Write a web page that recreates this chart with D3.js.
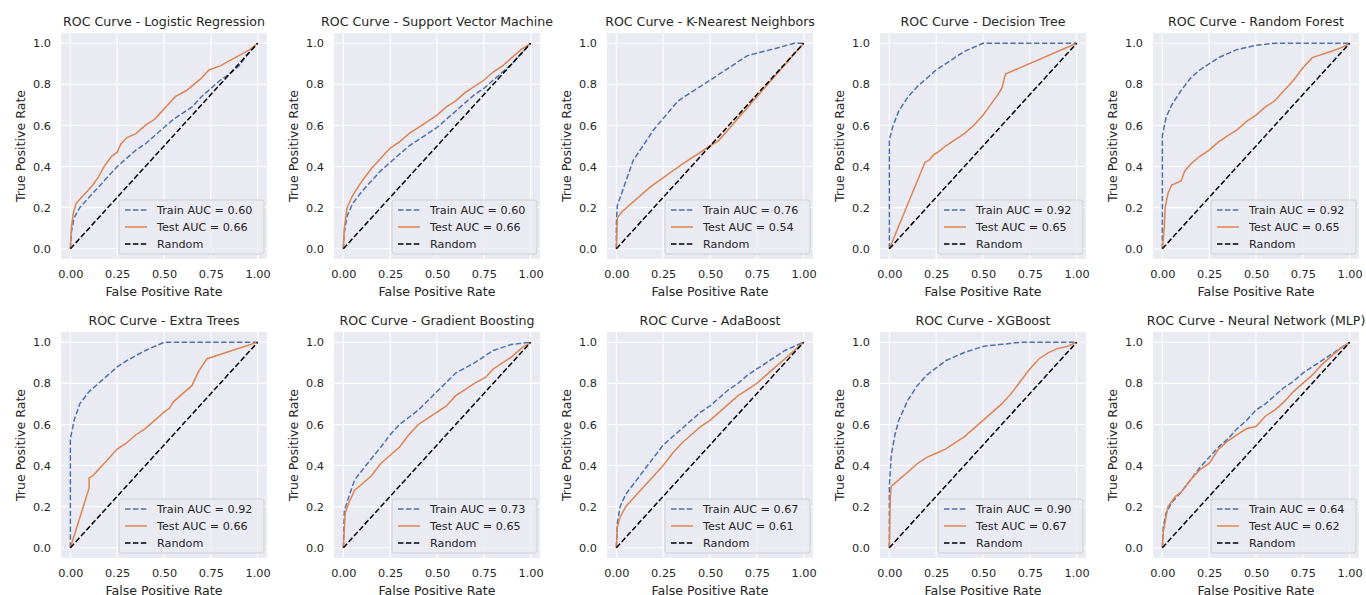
<!DOCTYPE html>
<html lang="en">
<head>
  <meta charset="UTF-8">
  <script src="https://d3js.org/d3.v7.min.js"></script>
  <title>ROC Curves</title>
  <style>
    body { margin: 0; background: #fff; }
    text { font-family: "DejaVu Sans", sans-serif; fill: #262626; }
  </style>
</head>
<body>

  <svg id="chart" width="1366" height="595"></svg>

  <script>

    // Model names and AUC values
    var models = ["Logistic Regression", "Support Vector Machine", "K-Nearest Neighbors", "Decision Tree", "Random Forest",
                  "Extra Trees", "Gradient Boosting", "AdaBoost", "XGBoost", "Neural Network (MLP)"];
    var trainAuc = [0.60, 0.60, 0.76, 0.92, 0.92, 0.92, 0.73, 0.67, 0.90, 0.64];
    var testAuc  = [0.66, 0.66, 0.54, 0.65, 0.65, 0.66, 0.65, 0.61, 0.67, 0.62];

    // ROC points [fpr, tpr]
    var trainRoc = [
      [[0,0],[0.005,0.08],[0.02,0.15],[0.05,0.2],[0.1,0.25],[0.15,0.3],[0.2,0.35],[0.25,0.4],[0.3,0.44],[0.35,0.48],[0.4,0.51],[0.45,0.55],[0.5,0.59],[0.55,0.63],[0.6,0.66],[0.65,0.69],[0.7,0.74],[0.75,0.78],[0.8,0.82],[0.85,0.85],[0.9,0.89],[0.95,0.95],[1,1]],
      [[0,0],[0.005,0.08],[0.02,0.16],[0.05,0.22],[0.1,0.28],[0.15,0.33],[0.2,0.38],[0.25,0.42],[0.3,0.46],[0.35,0.5],[0.4,0.53],[0.45,0.56],[0.5,0.59],[0.55,0.63],[0.6,0.67],[0.65,0.71],[0.7,0.75],[0.75,0.78],[0.8,0.82],[0.85,0.86],[0.9,0.9],[0.95,0.95],[1,1]],
      [[0,0],[0,0.12],[0.005,0.21],[0.09,0.43],[0.2,0.58],[0.33,0.72],[0.5,0.82],[0.7,0.94],[0.85,0.975],[0.95,1],[1,1]],
      [[0,0],[0,0.53],[0.02,0.6],[0.05,0.67],[0.1,0.74],[0.15,0.79],[0.2,0.83],[0.25,0.87],[0.3,0.9],[0.35,0.93],[0.4,0.96],[0.45,0.98],[0.5,1],[1,1]],
      [[0,0],[0,0.55],[0.02,0.64],[0.05,0.7],[0.1,0.77],[0.15,0.83],[0.2,0.87],[0.3,0.93],[0.4,0.97],[0.5,0.99],[0.6,1],[1,1]],
      [[0,0],[0,0.53],[0.02,0.62],[0.05,0.7],[0.1,0.76],[0.15,0.8],[0.2,0.84],[0.25,0.88],[0.3,0.91],[0.4,0.96],[0.5,1],[1,1]],
      [[0,0],[0.005,0.18],[0.03,0.25],[0.06,0.33],[0.12,0.4],[0.2,0.49],[0.25,0.55],[0.3,0.6],[0.4,0.67],[0.5,0.76],[0.6,0.85],[0.7,0.9],[0.8,0.96],[0.9,0.99],[1,1]],
      [[0,0],[0.005,0.12],[0.02,0.2],[0.05,0.26],[0.1,0.32],[0.15,0.38],[0.2,0.44],[0.25,0.5],[0.3,0.54],[0.35,0.58],[0.4,0.62],[0.45,0.66],[0.5,0.69],[0.55,0.73],[0.6,0.77],[0.65,0.8],[0.7,0.84],[0.75,0.87],[0.8,0.9],[0.85,0.93],[0.9,0.96],[0.95,0.98],[1,1]],
      [[0,0],[0,0.3],[0.01,0.45],[0.03,0.55],[0.05,0.62],[0.1,0.72],[0.15,0.79],[0.2,0.84],[0.3,0.91],[0.4,0.95],[0.5,0.98],[0.6,0.99],[0.7,1],[0.95,1],[1,1]],
      [[0,0],[0.005,0.1],[0.02,0.17],[0.05,0.22],[0.1,0.27],[0.15,0.33],[0.2,0.39],[0.25,0.44],[0.3,0.49],[0.35,0.53],[0.4,0.58],[0.45,0.62],[0.5,0.67],[0.55,0.7],[0.6,0.74],[0.65,0.78],[0.7,0.81],[0.75,0.85],[0.8,0.88],[0.85,0.91],[0.9,0.94],[0.95,0.97],[1,1]]
    ];

    var testRoc = [
      [[0,0],[0.005,0.1],[0.015,0.17],[0.03,0.22],[0.06,0.25],[0.09,0.28],[0.12,0.31],[0.15,0.35],[0.18,0.4],[0.22,0.45],[0.25,0.47],[0.27,0.51],[0.3,0.54],[0.35,0.56],[0.4,0.6],[0.45,0.63],[0.48,0.66],[0.52,0.7],[0.56,0.74],[0.62,0.77],[0.66,0.8],[0.7,0.83],[0.74,0.87],[0.8,0.89],[0.86,0.92],[0.92,0.95],[0.96,0.97],[1,1]],
      [[0,0],[0.005,0.1],[0.02,0.2],[0.05,0.26],[0.1,0.33],[0.15,0.39],[0.2,0.44],[0.25,0.49],[0.3,0.52],[0.35,0.56],[0.4,0.59],[0.45,0.62],[0.5,0.65],[0.55,0.69],[0.6,0.72],[0.65,0.76],[0.7,0.79],[0.75,0.82],[0.8,0.86],[0.85,0.89],[0.9,0.93],[0.95,0.97],[1,1]],
      [[0,0],[0.005,0.15],[0.03,0.18],[0.18,0.3],[0.35,0.41],[0.5,0.5],[0.55,0.53],[0.75,0.74],[1,1]],
      [[0,0],[0.19,0.42],[0.21,0.43],[0.24,0.46],[0.26,0.47],[0.3,0.5],[0.35,0.53],[0.4,0.56],[0.45,0.6],[0.5,0.65],[0.54,0.7],[0.58,0.75],[0.6,0.78],[0.62,0.85],[1,1]],
      [[0,0],[0.01,0.1],[0.015,0.2],[0.03,0.27],[0.05,0.31],[0.1,0.33],[0.12,0.38],[0.16,0.42],[0.2,0.45],[0.25,0.48],[0.3,0.52],[0.35,0.55],[0.4,0.58],[0.45,0.62],[0.5,0.65],[0.55,0.69],[0.6,0.72],[0.65,0.77],[0.7,0.82],[0.75,0.88],[0.8,0.93],[0.9,0.96],[0.96,0.98],[1,1]],
      [[0,0],[0.1,0.29],[0.1,0.34],[0.12,0.35],[0.16,0.39],[0.2,0.43],[0.25,0.48],[0.3,0.51],[0.35,0.55],[0.4,0.58],[0.45,0.62],[0.5,0.66],[0.53,0.68],[0.55,0.71],[0.6,0.75],[0.65,0.79],[0.68,0.85],[0.7,0.88],[0.73,0.92],[1,1]],
      [[0,0],[0.01,0.17],[0.03,0.22],[0.06,0.28],[0.1,0.31],[0.15,0.35],[0.2,0.41],[0.25,0.45],[0.3,0.49],[0.35,0.55],[0.4,0.6],[0.45,0.63],[0.5,0.66],[0.55,0.69],[0.6,0.74],[0.65,0.77],[0.7,0.8],[0.76,0.83],[0.8,0.87],[0.85,0.9],[0.9,0.93],[0.95,0.97],[1,1]],
      [[0,0],[0.005,0.1],[0.02,0.15],[0.05,0.2],[0.1,0.25],[0.15,0.3],[0.2,0.35],[0.25,0.4],[0.3,0.46],[0.35,0.51],[0.4,0.55],[0.45,0.59],[0.5,0.62],[0.55,0.66],[0.6,0.7],[0.65,0.74],[0.7,0.77],[0.75,0.8],[0.8,0.84],[0.85,0.88],[0.9,0.92],[0.95,0.96],[1,1]],
      [[0,0],[0.005,0.25],[0.01,0.3],[0.05,0.33],[0.1,0.37],[0.15,0.41],[0.2,0.44],[0.25,0.46],[0.3,0.48],[0.35,0.51],[0.4,0.54],[0.45,0.58],[0.5,0.62],[0.55,0.66],[0.6,0.7],[0.65,0.75],[0.7,0.81],[0.75,0.87],[0.8,0.92],[0.85,0.95],[0.9,0.97],[0.95,0.98],[1,1]],
      [[0,0],[0.005,0.08],[0.02,0.15],[0.03,0.2],[0.07,0.25],[0.1,0.27],[0.15,0.33],[0.2,0.38],[0.25,0.41],[0.3,0.48],[0.35,0.52],[0.4,0.55],[0.45,0.58],[0.5,0.59],[0.55,0.64],[0.6,0.67],[0.65,0.71],[0.7,0.76],[0.75,0.8],[0.8,0.84],[0.85,0.89],[0.9,0.93],[0.95,0.97],[1,1]]
    ];

    var randomLine = [[0,0],[1,1]];
    var fprTicks = [0, 0.25, 0.5, 0.75, 1];
    var tprTicks = [0, 0.2, 0.4, 0.6, 0.8, 1];

    // Layout
    var svg = d3.select("#chart");
    var colLeft = [61, 334, 607, 880, 1153];
    var rowTop = [33, 332];
    var pw = 206, ph = 226;

    var x = d3.scaleLinear().domain([-0.05, 1.05]).range([0, pw]);
    var y = d3.scaleLinear().domain([-0.05, 1.05]).range([ph, 0]);

    var line = d3.line()
      .x(function(d) { return x(d[0]); })
      .y(function(d) { return y(d[1]); });

    var blue = "#4C72B0", orange = "#DD8452";

    models.forEach(function(name, i) {
      var g = svg.append("g")
        .attr("transform", "translate(" + colLeft[i % 5] + "," + rowTop[Math.floor(i / 5)] + ")");

      // background
      g.append("rect").attr("width", pw).attr("height", ph).attr("fill", "#EAEAF2");

      // grid lines
      g.selectAll(".vg").data(fprTicks).enter().append("line")
        .attr("x1", function(d) { return x(d); }).attr("x2", function(d) { return x(d); })
        .attr("y1", 0).attr("y2", ph)
        .attr("stroke", "#fff").attr("stroke-width", 1.1);
      g.selectAll(".hg").data(tprTicks).enter().append("line")
        .attr("y1", function(d) { return y(d); }).attr("y2", function(d) { return y(d); })
        .attr("x1", 0).attr("x2", pw)
        .attr("stroke", "#fff").attr("stroke-width", 1.1);

      // axes (tick labels only)
      var xa = g.append("g").attr("transform", "translate(0," + ph + ")")
        .call(d3.axisBottom(x).tickValues(fprTicks).tickFormat(d3.format(".2f")).tickSize(0).tickPadding(11));
      var ya = g.append("g")
        .call(d3.axisLeft(y).tickValues(tprTicks).tickFormat(d3.format(".1f")).tickSize(0).tickPadding(10));
      [xa, ya].forEach(function(a) {
        a.select(".domain").remove();
        a.selectAll("text").style("font-size", "11.3px").attr("fill", "#262626")
          .style("font-family", "'DejaVu Sans', sans-serif");
      });

      // curves
      g.append("path").datum(trainRoc[i]).attr("d", line)
        .attr("fill", "none").attr("stroke", blue).attr("stroke-width", 1.5)
        .attr("stroke-dasharray", "5.5,2.4");
      g.append("path").datum(testRoc[i]).attr("d", line)
        .attr("fill", "none").attr("stroke", orange).attr("stroke-width", 1.5);
      g.append("path").datum(randomLine).attr("d", line)
        .attr("fill", "none").attr("stroke", "#000").attr("stroke-width", 1.5)
        .attr("stroke-dasharray", "5.5,2.4");

      // titles and labels
      g.append("text").attr("x", pw / 2).attr("y", -7)
        .attr("text-anchor", "middle").style("font-size", "12.6px").text("ROC Curve - " + name);
      g.append("text").attr("x", pw / 2).attr("y", ph + 37)
        .attr("text-anchor", "middle").style("font-size", "12.6px").text("False Positive Rate");
      g.append("text").attr("transform", "translate(-36.5," + (ph / 2) + ") rotate(-90)")
        .attr("text-anchor", "middle").style("font-size", "12.6px").text("True Positive Rate");

      // legend
      var lw = 145, lh = 54;
      var lg = g.append("g").attr("transform", "translate(" + (pw - lw - 3) + "," + (ph - lh - 5) + ")");
      lg.append("rect").attr("width", lw).attr("height", lh).attr("rx", 2.5)
        .attr("fill", "#EAEAF2").attr("fill-opacity", 0.8).attr("stroke", "#CCCCCC").attr("stroke-width", 0.9);
      var items = [
        { label: "Train AUC = " + trainAuc[i].toFixed(2), color: blue, dash: "5.5,2.4" },
        { label: "Test AUC = " + testAuc[i].toFixed(2), color: orange, dash: null },
        { label: "Random", color: "#000", dash: "5.5,2.4" }
      ];
      items.forEach(function(it, k) {
        var yy = 10 + k * 17;
        lg.append("line").attr("x1", 6).attr("x2", 28).attr("y1", yy).attr("y2", yy)
          .attr("stroke", it.color).attr("stroke-width", 1.5)
          .attr("stroke-dasharray", it.dash);
        lg.append("text").attr("x", 38).attr("y", yy).attr("dy", "0.36em")
          .style("font-size", "11.2px").text(it.label);
      });
    });

  </script>

</body>
</html>
